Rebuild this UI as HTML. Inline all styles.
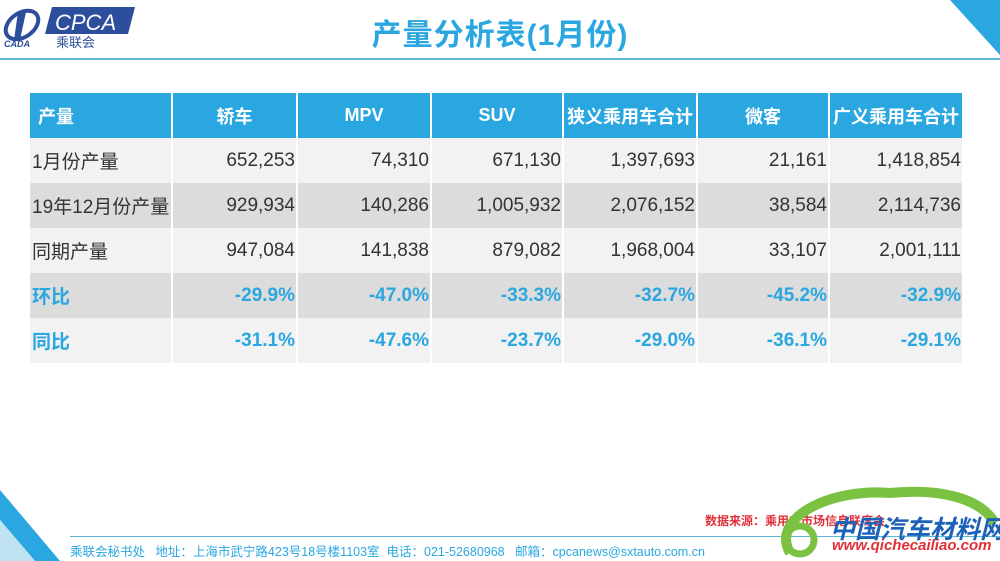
<!DOCTYPE html>
<html><head><meta charset="utf-8"><style>
body{margin:0;width:1000px;height:561px;background:#fff;position:relative;overflow:hidden;font-family:"Liberation Sans","Noto Sans CJK SC",sans-serif}
.title{position:absolute;left:0;width:1000px;top:10px;text-align:center;font-size:30px;font-weight:bold;color:#2aa7e0;letter-spacing:1px}
.hl{position:absolute;left:0;width:1000px;top:58px;height:2px;background:#5bb8da}
table{position:absolute;left:30px;top:93px;width:932px;border-collapse:collapse;table-layout:fixed}
td{box-sizing:border-box;padding:0 1px 0 0;height:45px;font-size:19px;color:#333;text-align:right;border-left:2px solid #fff;white-space:nowrap;overflow:hidden}
td:first-child{text-align:left;border-left:none;padding-left:2px}
tr.h td{background:#2aa7e0;color:#fff;font-weight:bold;text-align:center;font-size:18px;padding:0}
tr.h td:first-child{text-align:left;padding-left:8px}
tr.a td{background:#f2f2f2}
tr.b td{background:#dcdcdc}
tr.p td{color:#2aa7e0;font-weight:bold}
</style></head><body>
<svg style="position:absolute;left:0;top:0" width="140" height="50">
<ellipse cx="22" cy="25" rx="18" ry="12" fill="none" stroke="#2d4e9c" stroke-width="4" transform="rotate(-35 22 25)"/>
<path d="M18 12 L26 12 L20 40 L14 40Z" fill="#2d4e9c"/>
<text x="4" y="47" font-size="9" font-weight="bold" font-style="italic" fill="#2d4e9c" font-family="Liberation Sans">CADA</text>
<path d="M52 7 L135 7 L128 34 L45 34Z" fill="#2d4e9c"/>
<text x="55" y="30" font-size="22" font-style="italic" fill="#fff" font-family="Liberation Sans">CPCA</text>
<text x="56" y="47" font-size="13" fill="#2d4e9c" font-family="Noto Sans CJK SC">乘联会</text>
</svg>
<svg style="position:absolute;left:930px;top:0" width="70" height="60"><path d="M20 0 L70 0 L70 55Z" fill="#2aa7e0"/></svg>
<div class="title">产量分析表(1月份)</div>
<div class="hl"></div>
<table>
<colgroup><col style="width:142px"><col style="width:125px"><col style="width:134px"><col style="width:132px"><col style="width:134px"><col style="width:132px"><col style="width:133px"></colgroup>
<tr class="h"><td>产量</td><td>轿车</td><td>MPV</td><td>SUV</td><td>狭义乘用车合计</td><td>微客</td><td>广义乘用车合计</td></tr>
<tr class="a"><td>1月份产量</td><td>652,253</td><td>74,310</td><td>671,130</td><td>1,397,693</td><td>21,161</td><td>1,418,854</td></tr>
<tr class="b"><td>19年12月份产量</td><td>929,934</td><td>140,286</td><td>1,005,932</td><td>2,076,152</td><td>38,584</td><td>2,114,736</td></tr>
<tr class="a"><td>同期产量</td><td>947,084</td><td>141,838</td><td>879,082</td><td>1,968,004</td><td>33,107</td><td>2,001,111</td></tr>
<tr class="b p"><td>环比</td><td>-29.9%</td><td>-47.0%</td><td>-33.3%</td><td>-32.7%</td><td>-45.2%</td><td>-32.9%</td></tr>
<tr class="a p"><td>同比</td><td>-31.1%</td><td>-47.6%</td><td>-23.7%</td><td>-29.0%</td><td>-36.1%</td><td>-29.1%</td></tr>
</table>
<svg style="position:absolute;left:0;top:470px" width="80" height="91"><path d="M0 20 L60 91 L35 91 L0 50Z" fill="#2aa7e0"/><path d="M0 50 L35 91 L0 91Z" fill="#bfe3f3"/></svg>
<div style="position:absolute;left:70px;top:536px;width:930px;height:1px;background:#5bb8da"></div>
<div style="position:absolute;left:70px;top:541px;font-size:12.5px;color:#2aa7e0;white-space:nowrap">乘联会秘书处&nbsp;&nbsp;&nbsp;地址：上海市武宁路423号18号楼1103室&nbsp;&nbsp;电话：021-52680968&nbsp;&nbsp;&nbsp;邮箱：cpcanews@sxtauto.com.cn</div>
<div style="position:absolute;left:705px;top:512px;font-size:12px;color:#e0303a;font-weight:bold;white-space:nowrap">数据来源：乘用车市场信息联席会</div>
<svg style="position:absolute;left:770px;top:478px" width="230" height="83"><path d="M20 75 C0 40 60 10 120 15 C170 10 210 20 225 45" fill="none" stroke="#7cc242" stroke-width="10"/><circle cx="30" cy="62" r="14" fill="none" stroke="#7cc242" stroke-width="7"/></svg>
<div style="position:absolute;left:830px;top:510px;font-size:25px;font-weight:bold;color:#1c63b8;font-style:italic;white-space:nowrap">中国汽车材料网</div>
<div style="position:absolute;left:832px;top:537px;font-size:15px;font-weight:bold;color:#e0303a;font-style:italic">www.qichecailiao.com</div>
</body></html>
